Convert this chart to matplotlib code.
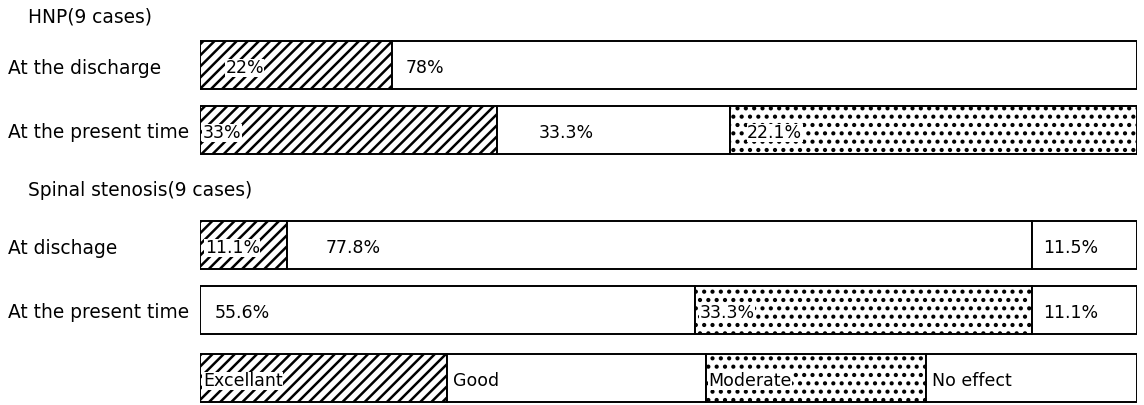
import matplotlib.pyplot as plt

rows = ['At the discharge', 'At the present time', 'At dischage', 'At the present time', '']
kinds = [
    ['exc', 'good'],
    ['exc', 'good', 'mod'],
    ['exc', 'good', 'none'],
    ['good', 'mod', 'none'],
    ['exc', 'good', 'mod', 'none'],
]
widths = [
    [20.5, 79.5],
    [31.7, 24.9, 43.4],
    [9.3, 79.5, 11.2],
    [52.8, 36.0, 11.2],
    [26.4, 27.6, 23.5, 22.5],
]
labels = [
    ['22%', '78%'],
    ['33%', '33.3%', '22.1%'],
    ['11.1%', '77.8%', '11.5%'],
    ['55.6%', '33.3%', '11.1%'],
    ['Excellant', 'Good', 'Moderate', 'No effect'],
]
groups = ['HNP(9 cases)', 'Spinal stenosis(9 cases)']

hatches = {'exc': '///', 'good': '', 'mod': '..', 'none': ''}

plt.rcParams['hatch.linewidth'] = 1.8
plt.rcParams['font.family'] = 'DejaVu Sans'

fig = plt.figure(figsize=(11.44, 4.05), dpi=100)
ax = fig.add_axes([200 / 1144, 0, 937 / 1144, 1])
ax.set_xlim(0, 100)
ax.set_ylim(405, 0)
ax.axis('off')

ypos = [65, 130, 245, 310, 378]
# where each label starts inside its segment (% of bar)
label_off = [
    [2.7, 1.4],
    [0.3, 4.4, 1.8],
    [0.5, 4.1, 1.2],
    [1.6, 0.5, 1.2],
    [0.3, 0.6, 0.2, 0.6],
]

for i in range(len(rows)):
    left = 0
    for j, w in enumerate(widths[i]):
        ax.barh(ypos[i], w, left=left, height=48, color='white',
                edgecolor='black', linewidth=1.4, hatch=hatches[kinds[i][j]])
        ax.text(left + label_off[i][j], ypos[i] + 3, labels[i][j], fontsize=12.5,
                va='center', ha='left',
                bbox=dict(facecolor='white', edgecolor='none', pad=0.3) if hatches[kinds[i][j]] else None)
        left += w
    if rows[i]:
        fig.text(8 / 1144, 1 - (ypos[i] + 3) / 405, rows[i], fontsize=13.4, va='center', ha='left')

fig.text(28 / 1144, 1 - 17 / 405, groups[0], fontsize=13.4, va='center', ha='left')
fig.text(28 / 1144, 1 - 190 / 405, groups[1], fontsize=13.4, va='center', ha='left')

fig.savefig('out.png', dpi=100, facecolor='white')
